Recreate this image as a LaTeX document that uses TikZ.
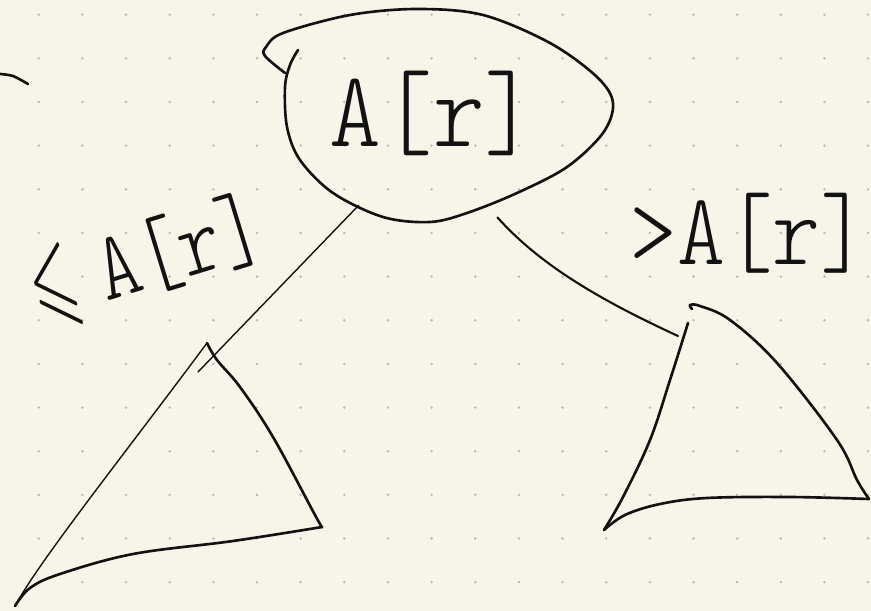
\documentclass[tikz,border=0pt]{standalone}
\usepackage{fontspec}
\newfontfamily\handfont{lmmonolt10-regular}[Extension=.otf]
\newfontfamily\symbfont{latinmodern-math}[Extension=.otf]
\usepackage{tikz}
\usetikzlibrary{shapes.geometric,calc}
\definecolor{paper}{RGB}{247,245,234}
\definecolor{griddot}{RGB}{188,188,182}
\definecolor{ink}{RGB}{18,18,18}

\begin{document}
\begin{tikzpicture}[x=0.02cm, y=-0.02cm,
    pen/.style={draw=ink, line width=1.5pt, line cap=round, line join=round},
    thinpen/.style={pen, line width=0.8pt},
    hand/.style={font=\handfont\fontsize{46}{46}\selectfont, text=ink, inner sep=0pt},
    bighand/.style={hand, font=\handfont\fontsize{56}{56}\selectfont},
    rootoval/.style={ellipse, minimum width=6.6cm, minimum height=4.24cm, inner sep=0pt}
]
\useasboundingbox (0,0) rectangle (871,611);
\fill[paper] (0,0) rectangle (871,611);
\foreach \i in {0,...,19}
  \foreach \j in {0,...,13}
    \fill[griddot] ({38.75+43.65*\i},{14.7+43.65*\j}) circle (0.028cm);

\node[rootoval] (root) at (448,116) {};
\draw[pen] plot[smooth, tension=0.55] coordinates {(298,50) (290,65) (285,87) (287,127) (300,160) (333,193) (383,217) (430,222) (467,213) (517,193) (567,167) (603,133) (613,103) (597,77) (550,43) (483,15) (417,9) (350,15) (283,33) (266,47) (265,56) (285,73)};
\node[bighand] (rootkey) at (433,113) {\scalebox{1}[1.1]{A[r]}};

\node[hand, rotate=17] (lelabel) at (147,260) {\scalebox{1}[1.2]{{\symbfont\fontsize{46}{46}\selectfont\scalebox{0.7}[1.15]{⩽}}\hspace{0.3em}A[r]}};
\node[hand, font=\handfont\fontsize{52}{52}\selectfont] (gtlabel) at (749,233) {\scalebox{1}[1.12]{>A[r]}};

\coordinate (lapex) at (207,343);
\coordinate (lleft) at (15,606);
\coordinate (lright) at (322,527);
\coordinate (ltip) at (198,372);
\draw[thinpen] (lapex) .. controls (120,460) and (40,560) .. (lleft);
\draw[pen] plot[smooth, tension=0.6] coordinates {(lleft) (30,588) (60,574) (133,554) (233,541) (lright)};
\draw[pen] plot[smooth, tension=0.6] coordinates {(lapex) (217,360) (240,387) (273,437) (315,515) (lright)};

\coordinate (rapex) at (690,305);
\coordinate (rleft) at (604,530);
\coordinate (rright) at (869,499);
\coordinate (rtip) at (678,336);
\draw[pen] plot[smooth, tension=0.6] coordinates {(688,323) (670,380) (650,440) (623,497) (rleft)};
\draw[pen] plot[smooth, tension=0.6] coordinates {(rleft) (625,515) (660,504) (707,498) (790,497) (rright)};
\draw[pen] plot[smooth, tension=0.6] coordinates {(rright) (857,480) (837,440) (777,363) (730,320) (700,306) (rapex) (692,309)};

\draw[thinpen] (root.225) -- (ltip);
\draw[pen, line width=1.2pt] (root.-64) .. controls (540,265) and (600,300) .. (rtip);

\draw[pen] plot[smooth] coordinates {(0,74) (13,76) (28,84)};
\end{tikzpicture}
\end{document}
